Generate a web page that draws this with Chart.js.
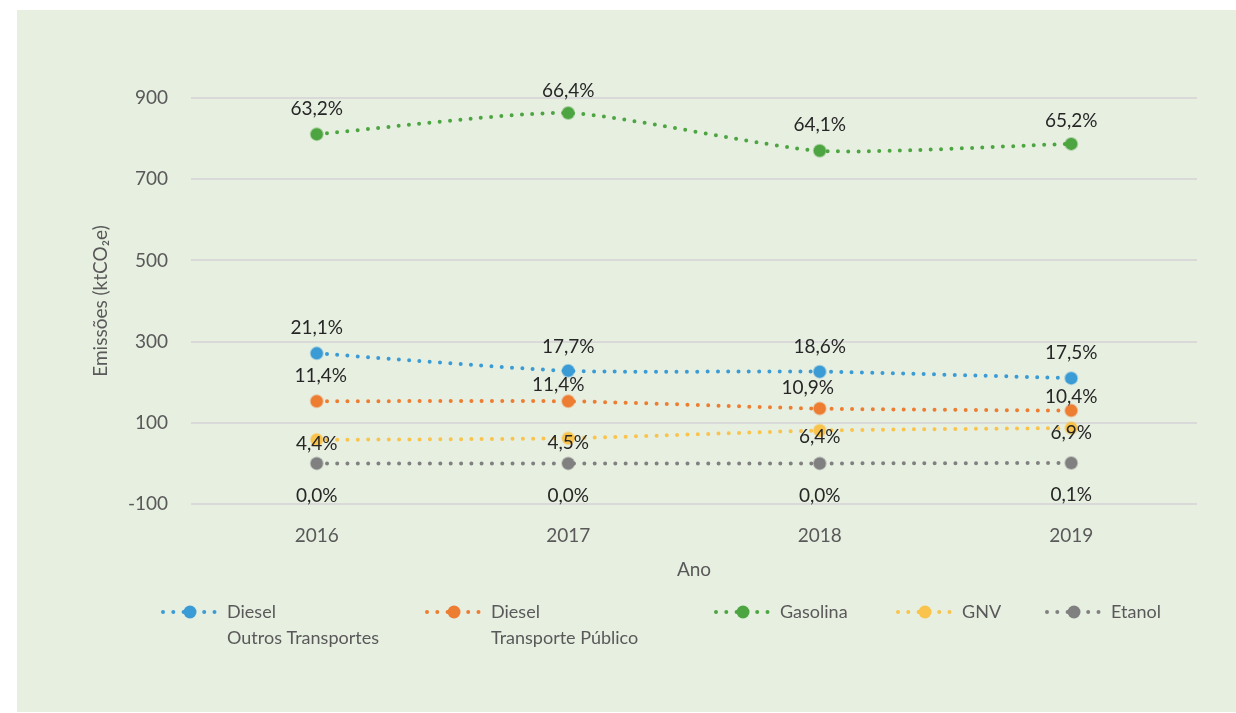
<!DOCTYPE html>
<html>
<head>
<meta charset="utf-8">
<script src="https://cdn.jsdelivr.net/npm/chart.js@4"></script>
<style>
html,body{margin:0;padding:0;background:#ffffff;}
#wrap{width:1236px;height:713px;position:relative;}
</style>
</head>
<body>
<div id="wrap"><canvas id="c" width="1236" height="713"></canvas></div>
<script>
// ---- data ----
const years = ['2016', '2017', '2018', '2019'];
const dieselOutros = [271, 228, 226, 210];
const dieselPublico = [153, 153, 135, 130];
const gasolina = [811, 863, 770, 787];
const gnv = [58, 62, 81, 87];
const etanol = [0, 0, 0, 1];

const pctDieselOutros = ['21,1%', '17,7%', '18,6%', '17,5%'];
const pctDieselPublico = ['11,4%', '11,4%', '10,9%', '10,4%'];
const pctGasolina = ['63,2%', '66,4%', '64,1%', '65,2%'];
const pctGnv = ['4,4%', '4,5%', '6,4%', '6,9%'];
const pctEtanol = ['0,0%', '0,0%', '0,0%', '0,1%'];

const seriesNames = [
  ['Diesel', 'Outros Transportes'],
  ['Diesel', 'Transporte Público'],
  ['Gasolina'],
  ['GNV'],
  ['Etanol']
];
const yTickValues = [-100, 100, 300, 500, 700, 900];

// ---- styles / layout ----
const FONT = 'Lato, "Open Sans", "DejaVu Sans", sans-serif';
const colors = ['#3A9BD5', '#ED7D31', '#4DA541', '#F9C34C', '#808080'];
const labelOffsets = [
  {dx: [0, 0, 0, 0],   dy: [-25, -24, -25, -25]},
  {dx: [4, -10, -12, 0], dy: [-25, -16, -21, -14]},
  {dx: [0, 0, 0, 0],   dy: [-25, -22, -26, -23]},
  {dx: [0, 0, 0, 0],   dy: [4, 5, 6, 5]},
  {dx: [0, 0, 0, 0],   dy: [32, 32, 32, 32]}
];
const pctLabels = [pctDieselOutros, pctDieselPublico, pctGasolina, pctGnv, pctEtanol];
const legendCenters = [190, 454, 743, 925, 1074];

function mkDataset(i, data) {
  return {
    label: seriesNames[i].join(' '),
    data: data,
    borderColor: colors[i],
    backgroundColor: colors[i],
    borderWidth: 4,
    borderDash: [0, 10.3],
    borderCapStyle: 'round',
    tension: 0.2,
    pointRadius: 6,
    pointHoverRadius: 6,
    pointBackgroundColor: colors[i],
    pointBorderColor: colors[i] + '66',
    pointBorderWidth: 2,
    fill: false
  };
}

const panelPlugin = {
  id: 'panel',
  beforeDraw(chart) {
    const ctx = chart.ctx;
    ctx.save();
    ctx.fillStyle = '#ffffff';
    ctx.fillRect(0, 0, chart.width, chart.height);
    ctx.fillStyle = '#E7EFE1';
    ctx.fillRect(17, 10, chart.width - 17, 702);
    ctx.restore();
  }
};

const dataLabelPlugin = {
  id: 'pctLabels',
  afterDatasetsDraw(chart) {
    const ctx = chart.ctx;
    ctx.save();
    ctx.font = '19px ' + FONT;
    ctx.fillStyle = '#262626';
    ctx.textAlign = 'center';
    ctx.textBaseline = 'middle';
    chart.data.datasets.forEach((ds, i) => {
      const meta = chart.getDatasetMeta(i);
      meta.data.forEach((el, j) => {
        const o = labelOffsets[i];
        ctx.fillText(pctLabels[i][j], el.x + o.dx[j], el.y + o.dy[j]);
      });
    });
    ctx.restore();
  }
};

const legendPlugin = {
  id: 'customLegend',
  afterDraw(chart) {
    const ctx = chart.ctx;
    ctx.save();
    const y0 = 612, lineGap = 26;
    chart.data.datasets.forEach((ds, i) => {
      const cx = legendCenters[i];
      ctx.strokeStyle = ds.borderColor;
      ctx.lineWidth = 4;
      ctx.lineCap = 'round';
      ctx.setLineDash([0, 10.3]);
      ctx.beginPath();
      ctx.moveTo(cx - 27, y0);
      ctx.lineTo(cx + 27, y0);
      ctx.stroke();
      ctx.setLineDash([]);
      ctx.fillStyle = ds.backgroundColor;
      ctx.beginPath();
      ctx.arc(cx, y0, 6.5, 0, Math.PI * 2);
      ctx.fill();
      ctx.fillStyle = '#595959';
      ctx.font = '18px ' + FONT;
      ctx.textAlign = 'left';
      ctx.textBaseline = 'middle';
      seriesNames[i].forEach((t, k) => {
        ctx.fillText(t, cx + 37, y0 + k * lineGap);
      });
    });
    ctx.restore();
  }
};

new Chart(document.getElementById('c'), {
  type: 'line',
  data: {
    labels: years,
    datasets: [
      mkDataset(0, dieselOutros),
      mkDataset(1, dieselPublico),
      mkDataset(2, gasolina),
      mkDataset(3, gnv),
      mkDataset(4, etanol)
    ]
  },
  options: {
    responsive: false,
    animation: false,
    devicePixelRatio: 1,
    layout: {padding: {top: 98, left: 86, right: 39, bottom: 129}},
    plugins: {
      legend: {display: false},
      tooltip: {enabled: false},
      title: {display: false}
    },
    scales: {
      x: {
        type: 'category',
        offset: true,
        grid: {display: false, drawTicks: false},
        border: {display: false},
        ticks: {color: '#595959', font: {family: FONT, size: 19}, padding: 20},
        title: {display: true, text: 'Ano', color: '#595959', font: {family: FONT, size: 19}, padding: {top: 0, bottom: 3}},
        afterFit(s) { s.height = 80; }
      },
      y: {
        min: -100,
        max: 900,
        afterBuildTicks(s) { s.ticks = yTickValues.map(v => ({value: v})); },
        grid: {color: '#D9D9D9', lineWidth: 2, drawTicks: false},
        border: {display: false},
        ticks: {color: '#595959', font: {family: FONT, size: 19}, padding: 23},
        title: {display: true, text: 'Emissões (ktCO₂e)', color: '#595959', font: {family: FONT, size: 19}, padding: {top: 3, bottom: 0}},
        afterFit(s) { s.width = 105; }
      }
    }
  },
  plugins: [panelPlugin, dataLabelPlugin, legendPlugin]
});
</script>
</body>
</html>
